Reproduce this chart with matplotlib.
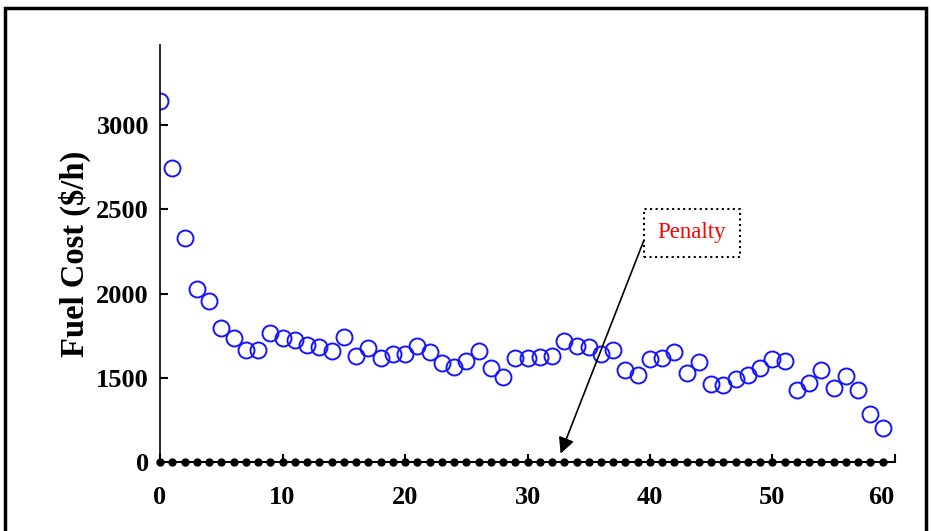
import numpy as np
import matplotlib
matplotlib.use("Agg")
from matplotlib import pyplot as plt
from matplotlib.patches import Rectangle
from matplotlib.transforms import ScaledTranslation

# iterations and fuel cost ($/h)
iterations = np.arange(60)
fuel_cost = [3140, 2745, 2327, 2024, 1958, 1797, 1738, 1667, 1667, 1768,
             1738, 1726, 1696, 1684, 1660, 1744, 1631, 1679, 1619, 1643,
             1643, 1690, 1650, 1590, 1565, 1600, 1660, 1560, 1506, 1619,
             1619, 1625, 1631, 1720, 1690, 1684, 1643, 1667, 1548, 1518,
             1613, 1619, 1650, 1530, 1595, 1464, 1458, 1494, 1518, 1560,
             1613, 1600, 1429, 1470, 1548, 1440, 1512, 1429, 1286, 1202]
penalty = [0] * 60

# broken y axis: the "0" row sits where 1000 would be
y_break = 1000
y_ticks = [0, 1500, 2000, 2500, 3000]
x_ticks = [0, 10, 20, 30, 40, 50, 60]

plt.rcParams["font.family"] = ["Liberation Serif", "DejaVu Serif"]

fig = plt.figure(figsize=(9.31, 5.31), dpi=100)
ax = fig.add_axes([0.1719, 0.1299, 0.7894, 0.7854])

ax.plot(iterations, fuel_cost, "o", mfc="none", mec="#1414ff", ms=11.5, mew=1.4)
ax.plot(iterations, np.array(penalty) + y_break, "o", color="black", ms=5,
        clip_on=False, zorder=3)

ax.set_xlim(0, 60)
ax.set_ylim(y_break, 3475)
ax.set_xticks(x_ticks)
ax.set_yticks([t if t > 0 else y_break for t in y_ticks])
ax.set_yticklabels([str(t) for t in y_ticks])
ax.tick_params(direction="in", length=6, width=1.5, labelsize=19)
ax.tick_params(axis="x", pad=17)
ax.tick_params(axis="y", pad=8)
for lab in ax.get_xticklabels() + ax.get_yticklabels():
    lab.set_fontweight("bold")
# last x label sits a bit left of its tick in the original
last = ax.get_xticklabels()[-1]
last.set_transform(last.get_transform() + ScaledTranslation(-0.14, 0, fig.dpi_scale_trans))

ax.spines["top"].set_visible(False)
ax.spines["right"].set_visible(False)
ax.spines["left"].set_linewidth(1.2)
ax.spines["bottom"].set_linewidth(1.5)

ax.set_ylabel("Fuel Cost ($/h)", fontsize=23.5, fontweight="bold", labelpad=4)

ax.text(43.4, 2360, "Penalty", ha="center", va="center", color="red",
        fontsize=16.5,
        bbox=dict(boxstyle="square,pad=0.6", fc="white", ec="black",
                  ls=":", lw=1.5))
ax.annotate("", xy=(32.7, y_break + 50), xytext=(39.5, 2315),
            arrowprops=dict(arrowstyle="-|>", color="black", lw=1.2,
                            mutation_scale=24, shrinkA=0, shrinkB=0))

# outer frame of the original figure
fig.patches.append(Rectangle((5 / 931, -0.1), 921 / 931, 1.1 - 8 / 531,
                             transform=fig.transFigure, fill=False,
                             ec="black", lw=2.5))

fig.savefig("out.png", dpi=100)
